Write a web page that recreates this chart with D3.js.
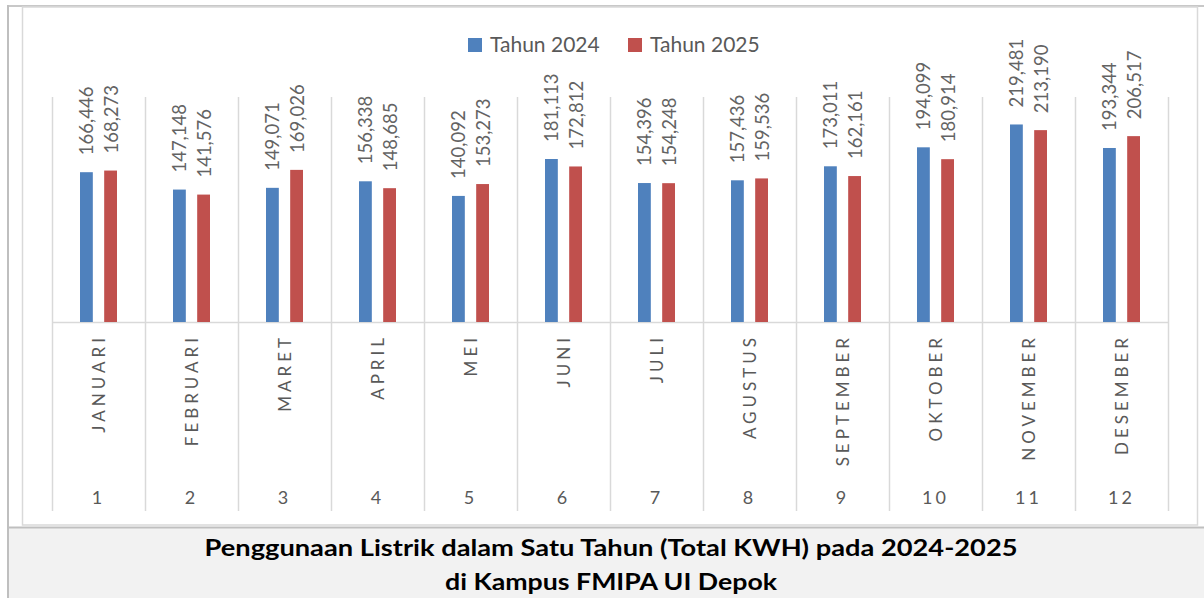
<!DOCTYPE html>
<html>
<head>
<meta charset="utf-8">
<script src="https://cdn.jsdelivr.net/npm/d3@7"></script>
<style>
  body { margin: 0; background: #fff; }
  svg { display: block; font-family: Lato, "Open Sans", sans-serif; }
</style>
</head>
<body>
<svg id="chart"></svg>
<script>
// data
var months = ["JANUARI", "FEBRUARI", "MARET", "APRIL", "MEI", "JUNI", "JULI",
    "AGUSTUS", "SEPTEMBER", "OKTOBER", "NOVEMBER", "DESEMBER"];
var monthNums = ["1", "2", "3", "4", "5", "6", "7", "8", "9", "10", "11", "12"];
var seriesNames = ["Tahun 2024", "Tahun 2025"];
var values2024 = [166446, 147148, 149071, 156338, 140092, 181113, 154396, 157436, 173011, 194099, 219481, 193344];
var values2025 = [168273, 141576, 169026, 148685, 153273, 172812, 154248, 159536, 162161, 180914, 213190, 206517];
var colors = ["#4f81bd", "#c0504d"];
var titleLines = ["Penggunaan Listrik dalam Satu Tahun (Total KWH) pada 2024-2025",
    "di Kampus FMIPA UI Depok"];

var W = 1204, H = 598;
var svg = d3.select("svg#chart").attr("width", W).attr("height", H);

// frame + grey title strip
svg.append("rect").attr("x", 7).attr("y", 527).attr("width", W - 7).attr("height", H - 527)
    .attr("fill", "#f2f2f2");
svg.append("line").attr("x1", 7).attr("x2", W).attr("y1", 527.5).attr("y2", 527.5)
    .attr("stroke", "#bfbfbf").attr("stroke-width", 2);
svg.append("line").attr("x1", 7).attr("x2", W).attr("y1", 6).attr("y2", 6)
    .attr("stroke", "#c8c8c8").attr("stroke-width", 2);
svg.append("line").attr("x1", 8).attr("x2", 8).attr("y1", 5).attr("y2", H)
    .attr("stroke", "#bfbfbf").attr("stroke-width", 2);
svg.append("rect").attr("x", 22.5).attr("y", 7).attr("width", 1175).attr("height", 518)
    .attr("fill", "#fff").attr("stroke", "#d9d9d9").attr("stroke-width", 1.5);

// scales
var x = d3.scaleBand().domain(months).range([52, 1168]).paddingInner(0).paddingOuter(0);
var xs = d3.scaleBand().domain(seriesNames).range([28, 65]).paddingInner(0.47).paddingOuter(0);
var y = d3.scaleLinear().domain([0, 250000]).range([322, 97]);

var rows = months.map(function(m, i) {
    return { month: m, num: monthNums[i], vals: [values2024[i], values2025[i]] };
});

// category separators
var bounds = months.map(function(m) { return x(m); }).concat([x.range()[1]]);
svg.append("g").selectAll("line").data(bounds).enter().append("line")
    .attr("x1", function(d) { return Math.round(d) + 0.5; })
    .attr("x2", function(d) { return Math.round(d) + 0.5; })
    .attr("y1", y(250000)).attr("y2", 511)
    .attr("stroke", "#d9d9d9").attr("stroke-width", 1.5);
svg.append("line").attr("x1", x.range()[0]).attr("x2", x.range()[1])
    .attr("y1", y(0) + 0.5).attr("y2", y(0) + 0.5)
    .attr("stroke", "#d9d9d9").attr("stroke-width", 1.5);

// bars + labels
var groups = svg.append("g").selectAll("g.month").data(rows).enter().append("g")
    .attr("class", "month")
    .attr("transform", function(d) { return "translate(" + x(d.month) + ",0)"; });

var cells = groups.selectAll("g.cell")
    .data(function(d) { return d.vals.map(function(v, j) { return { v: v, s: seriesNames[j], j: j }; }); })
    .enter().append("g").attr("class", "cell");

cells.append("rect")
    .attr("x", function(d) { return xs(d.s); })
    .attr("y", function(d) { return y(d.v); })
    .attr("width", xs.bandwidth())
    .attr("height", function(d) { return y(0) - y(d.v); })
    .attr("fill", function(d) { return colors[d.j]; });

cells.append("text")
    .attr("transform", function(d) {
        return "translate(" + (xs(d.s) + xs.bandwidth() / 2 + 0.5) + "," + (y(d.v) - 17) + ") rotate(-90)";
    })
    .attr("dy", "0.35em")
    .attr("text-anchor", "start")
    .attr("fill", "#636363")
    .style("font-size", "18.5px")
    .text(function(d) { return d3.format(",")(d.v); });

// month labels (rotated) and numbers
groups.append("text")
    .attr("transform", "translate(" + (x.bandwidth() / 2 + 1) + ",334) rotate(-90)")
    .attr("dy", "0.35em")
    .attr("text-anchor", "end")
    .attr("fill", "#595959")
    .style("font-size", "17px")
    .style("letter-spacing", "4px")
    .text(function(d) { return d.month; });

groups.append("text")
    .attr("x", x.bandwidth() / 2)
    .attr("y", 498)
    .attr("dy", "0.35em")
    .attr("text-anchor", "middle")
    .attr("fill", "#595959")
    .style("font-size", "18px")
    .style("letter-spacing", "3px")
    .text(function(d) { return d.num; });

// legend
var legend = svg.append("g").selectAll("g").data(seriesNames).enter().append("g")
    .attr("transform", function(d, i) { return "translate(" + (468 + i * 160) + ",38)"; });
legend.append("rect").attr("width", 14).attr("height", 14)
    .attr("fill", function(d, i) { return colors[i]; });
legend.append("text").attr("x", 22).attr("y", 7).attr("dy", "0.35em")
    .attr("fill", "#595959").style("font-size", "21px")
    .text(function(d) { return d; });

// title
svg.append("g").selectAll("text").data(titleLines).enter().append("text")
    .attr("x", 611)
    .attr("y", function(d, i) { return 548 + i * 34; })
    .attr("dy", "0.35em")
    .attr("text-anchor", "middle")
    .attr("textLength", function(d, i) { return i === 0 ? 813 : 332; })
    .attr("lengthAdjust", "spacingAndGlyphs")
    .style("font-size", "23px")
    .style("font-weight", "bold")
    .attr("fill", "#000")
    .text(function(d) { return d; });
</script>
</body>
</html>
